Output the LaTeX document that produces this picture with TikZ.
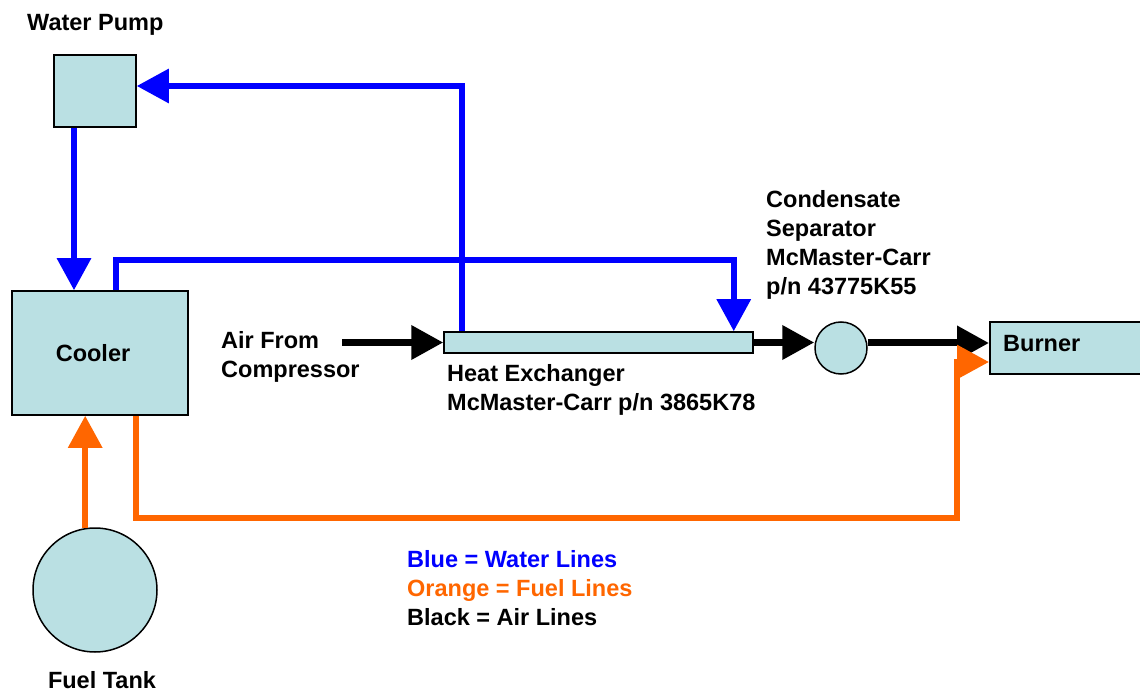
\documentclass[tikz,border=0pt]{standalone}
\usepackage{fontspec}
\setmainfont{Liberation Sans}
\usepackage{xcolor}
\usepackage{tikz}
\usetikzlibrary{shapes,arrows.meta,positioning}

\definecolor{unitfill}{RGB}{186,224,227}
\definecolor{waterblue}{RGB}{0,0,255}
\definecolor{fuelorange}{RGB}{255,102,0}

\begin{document}
\begin{tikzpicture}[x=1pt, y=-1pt, font=\bfseries\fontsize{23.5}{29}\selectfont]
    % Stili
    \tikzstyle{unit}=[rectangle, draw=black, line width=1.5pt, fill=unitfill, inner sep=0pt]
    \tikzstyle{tank}=[circle, draw=black, line width=1.5pt, fill=unitfill, inner sep=0pt]
    \tikzstyle{desc}=[inner sep=0pt, anchor=west, align=left]
    \tikzstyle{water}=[-{Triangle[length=32pt, width=33pt]}, line width=6pt, draw=waterblue]
    \tikzstyle{fuel}=[-{Triangle[length=32pt, width=33pt]}, line width=6pt, draw=fuelorange]
    \tikzstyle{air}=[-{Triangle[length=32pt, width=33pt]}, line width=7pt, draw=black]

    \useasboundingbox (0,0) rectangle (1140,692);

    % Componenti
    \node (pump) [unit, minimum width=82pt, minimum height=72pt] at (95,91) {};
    \node (cooler) [unit, minimum width=176pt, minimum height=124pt] at (100,353) {};
    \node (hx) [unit, minimum width=309pt, minimum height=21pt] at (598.5,342.5) {};
    \node (sep) [tank, minimum size=52pt] at (841,348) {};
    \node (burner) [unit, minimum width=156pt, minimum height=52pt, anchor=west] at (989,348) {};
    \node (tank) [tank, minimum size=124pt] at (95,590) {};
    \coordinate (airin) at (342,342.5);

    % Scritte
    \node (coolertxt) at ([xshift=-7pt]cooler.center) {Cooler};
    \node (pumptxt) [desc] at (27,25) {Water Pump};
    \node (airtxt) [desc] at (221,357) {Air From\\Compressor};
    \node (hxtxt) [desc] at (447,390) {Heat Exchanger\\McMaster-Carr p/n 3865K78};
    \node (septxt) [desc] at (766,245) {Condensate\\Separator\\McMaster-Carr\\p/n 43775K55};
    \node (burnertxt) [desc] at ([xshift=14pt, yshift=4pt]burner.west) {Burner};
    \node (tanktxt) at (102,680) {Fuel Tank};
    \node (legend) [desc] at (407,588) {\textcolor{waterblue}{Blue = Water Lines}\\
        \textcolor{fuelorange}{Orange = Fuel Lines}\\Black = Air Lines};

    % Linee acqua
    \draw [water] ([xshift=19pt]hx.north west) |- ([yshift=5pt]pump.east);
    \draw [water] ([xshift=-21pt]pump.south) -- ([xshift=-21pt]pump.south |- cooler.north);
    \draw [water] ([xshift=16pt]cooler.north) -- ++(0,-30) -| ([xshift=-20pt]hx.north east);

    % Linee aria
    \draw [air] (airin) -- (hx.west);
    \draw [air] (hx.east) -- (hx.east -| sep.west);
    \draw [air] ([yshift=5pt]sep.east) -- ([yshift=5pt]burner.west);

    % Linee carburante
    \draw [fuel] (tank.99) -- (tank.99 |- cooler.south);
    \draw [fuel] ([xshift=36pt]cooler.south) -- ++(0,102) -| ([xshift=-32pt, yshift=-14pt]burner.west)
        -- ([yshift=-14pt]burner.west);

\end{tikzpicture}
\end{document}
